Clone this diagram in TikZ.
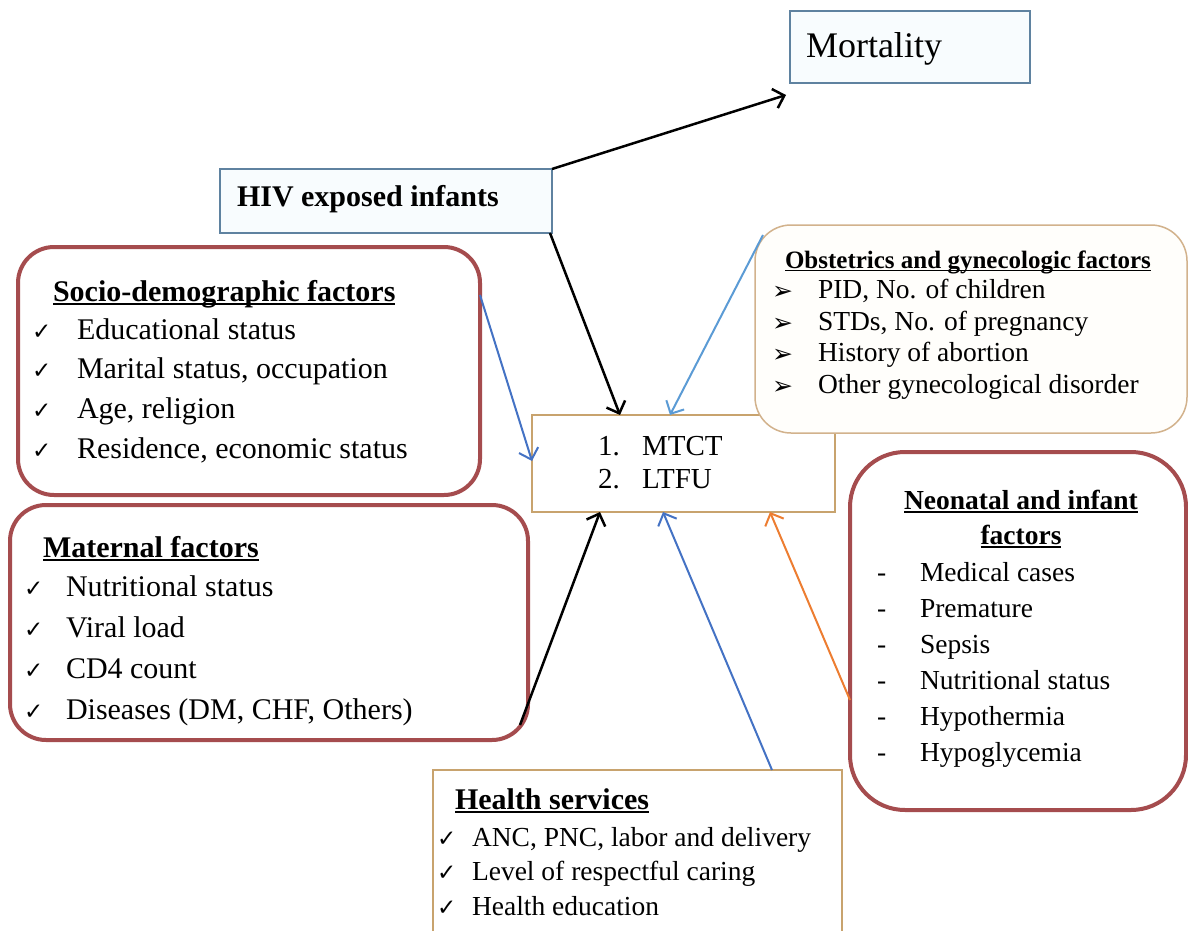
\documentclass[tikz,border=0pt]{standalone}
\usepackage{fontspec}
\setmainfont{Liberation Serif}
\newfontfamily\symf{DejaVu Sans}
\usetikzlibrary{arrows.meta,calc}
\definecolor{dred}{RGB}{165,76,78}
\definecolor{bframe}{RGB}{95,130,160}
\definecolor{tframe}{RGB}{200,163,110}
\definecolor{oframe}{RGB}{210,178,140}
\definecolor{hfill}{RGB}{248,252,254}
\definecolor{ofill}{RGB}{255,254,251}
\definecolor{ablue}{RGB}{68,114,196}
\definecolor{lblue}{RGB}{91,155,213}
\definecolor{aorange}{RGB}{237,125,49}
\newcommand\myul[1]{\setbox0\hbox{#1}\rlap{\rule[-0.13em]{\wd0}{0.07em}}\box0}
\begin{document}
\begin{tikzpicture}[x=1pt,y=-1pt,
  every node/.style={inner sep=0pt, outer sep=0pt},
  redbox/.style={draw=dred, line width=4pt, rounded corners=#1, fill=white},
  bluebox/.style={draw=bframe, line width=1.5pt, fill=hfill},
  tanbox/.style={draw=tframe, line width=1.5pt, fill=white},
  obstbox/.style={draw=oframe, line width=1.5pt, rounded corners=36pt, fill=ofill},
  tA/.style={anchor=base west, font=\fontsize{30}{36}\selectfont},
  tB/.style={anchor=base west, font=\fontsize{27.5}{33}\selectfont},
  hA/.style={anchor=base west, font=\fontsize{30}{36}\selectfont\bfseries},
  chk/.style={anchor=base west, font=\symf\fontsize{23}{26}\selectfont},
  barb/.style={anchor=base west, font=\symf\fontsize{25}{28}\selectfont},
  arw/.style={line width=2.5pt, -{Straight Barb[length=10pt,width=20pt]}},
  carw/.style={line width=2pt, -{Straight Barb[length=10pt,width=20pt]}}
]
\useasboundingbox[fill=white] (0,0) rectangle (1188,931);

% boxes
\node[bluebox, minimum width=240pt, minimum height=72pt] (mort) at (910,47) {};
\node[bluebox, minimum width=332pt, minimum height=64pt] (hiv) at (386,201) {};
\node[redbox=36pt, minimum width=462pt, minimum height=248pt] (socio) at (249,371) {};
\node[redbox=36pt, minimum width=518pt, minimum height=235pt] (mat) at (269,622.5) {};
\node[tanbox, minimum width=303pt, minimum height=97pt] (mtct) at (683.5,463.5) {};
\node[obstbox, minimum width=432pt, minimum height=208pt] (obst) at (971,329) {};
\node[redbox=55pt, minimum width=336pt, minimum height=358pt] (neo) at (1018,631) {};
\node[tanbox, minimum width=409pt, minimum height=175pt] (health) at (637.5,857.5) {};

% texts
\node[anchor=base west, font=\fontsize{36}{42}\selectfont] (mortt) at (806,58) {Mortality};
\node[hA] (hivt) at (237,206) {HIV exposed infants};

\node[hA] (sh) at (53,301) {\myul{Socio-demographic factors}};
\node[chk] (sc1) at (32,339) {✓};
\node[tA] (s1) at (77,339) {Educational status};
\node[chk] (sc2) at (32,378) {✓};
\node[tA] (s2) at (77,378) {Marital status, occupation};
\node[chk] (sc3) at (32,418) {✓};
\node[tA] (s3) at (77,418) {Age, religion};
\node[chk] (sc4) at (32,458) {✓};
\node[tA] (s4) at (77,458) {Residence, economic status};

\node[hA] (mh) at (43,557) {\myul{Maternal factors}};
\node[chk] (mc1) at (24,596) {✓};
\node[tA] (m1) at (66,596) {Nutritional status};
\node[chk] (mc2) at (24,637) {✓};
\node[tA] (m2) at (66,637) {Viral load};
\node[chk] (mc3) at (24,678) {✓};
\node[tA] (m3) at (66,678) {CD4 count};
\node[chk] (mc4) at (24,719) {✓};
\node[tA] (m4) at (66,719) {Diseases (DM, CHF, Others)};

\node[anchor=base west, font=\fontsize{29}{34}\selectfont] (n1) at (598,455) {1.};
\node[anchor=base west, font=\fontsize{29}{34}\selectfont] (o1) at (642,455) {MTCT};
\node[anchor=base west, font=\fontsize{29}{34}\selectfont] (n2) at (598,488) {2.};
\node[anchor=base west, font=\fontsize{29}{34}\selectfont] (o2) at (642,488) {LTFU};

\node[anchor=base west, font=\fontsize{25}{30}\selectfont\bfseries] (oh) at (785,268) {\myul{Obstetrics and gynecologic factors}};
\node[barb] (oa1) at (772,299) {➢};
\node[tB] (ob1) at (818,298) {PID, No. of children};
\node[barb] (oa2) at (772,331) {➢};
\node[tB] (ob2) at (818,330) {STDs, No. of pregnancy};
\node[barb] (oa3) at (772,362) {➢};
\node[tB] (ob3) at (818,361) {History of abortion};
\node[barb] (oa4) at (772,394) {➢};
\node[tB] (ob4) at (818,393) {Other gynecological disorder};

\node[anchor=base, font=\fontsize{27.5}{33}\selectfont\bfseries] (nh1) at (1021,509) {\myul{Neonatal and infant}};
\node[anchor=base, font=\fontsize{27.5}{33}\selectfont\bfseries] (nh2) at (1021,544) {\myul{factors}};
\node[tB] (nd1) at (877,581) {-};
\node[tB] (nn1) at (920,581) {Medical cases};
\node[tB] (nd2) at (877,617) {-};
\node[tB] (nn2) at (920,617) {Premature};
\node[tB] (nd3) at (877,653) {-};
\node[tB] (nn3) at (920,653) {Sepsis};
\node[tB] (nd4) at (877,689) {-};
\node[tB] (nn4) at (920,689) {Nutritional status};
\node[tB] (nd5) at (877,725) {-};
\node[tB] (nn5) at (920,725) {Hypothermia};
\node[tB] (nd6) at (877,761) {-};
\node[tB] (nn6) at (920,761) {Hypoglycemia};

\node[hA] (hh) at (455,809) {\myul{Health services}};
\node[chk] (hc1) at (437,846) {✓};
\node[tB] (h1) at (472,846) {ANC, PNC, labor and delivery};
\node[chk] (hc2) at (437,880) {✓};
\node[tB] (h2) at (472,880) {Level of respectful caring};
\node[chk] (hc3) at (437,915) {✓};
\node[tB] (h3) at (472,915) {Health education};

% connectors
\draw[arw] (hiv.north east) -- ([xshift=-4pt,yshift=-12pt]mort.south west);
\draw[arw] ([xshift=-2pt]hiv.south east) -- ([xshift=88pt]mtct.north west);
\draw[carw, ablue] ([yshift=-48pt]socio.north east) -- ([yshift=-46pt]mtct.north west);
\draw[carw, lblue] ([xshift=8pt,yshift=-10pt]obst.north west) -- ([xshift=138pt]mtct.north west);
\draw[arw] ([xshift=-8pt,yshift=15pt]mat.south east) -- ([xshift=68pt]mtct.south west);
\draw[carw, ablue] ([xshift=-70pt]health.north east) -- ([xshift=131pt]mtct.south west);
\draw[carw, aorange] ([yshift=-69pt]neo.west) -- ([xshift=238pt]mtct.south west);
\end{tikzpicture}
\end{document}
